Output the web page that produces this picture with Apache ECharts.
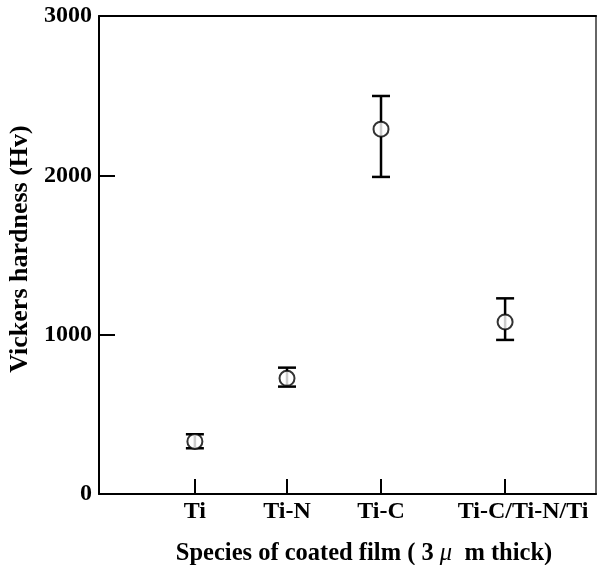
<!DOCTYPE html>
<html>
<head>
<meta charset="utf-8">
<script src="https://cdn.jsdelivr.net/npm/echarts@6/dist/echarts.min.js"></script>
<style>html,body{margin:0;padding:0;background:#fff;}#c{width:597px;height:565px;}</style>
</head>
<body>
<div id="c"></div>
<script>
const categories = ['Ti', 'Ti-N', 'Ti-C', 'Ti-C/Ti-N/Ti'];
const xPositions = [1.02, 2.0, 3.0, 4.32];
const hardness = [330, 726, 2290, 1080];
const errLow = [287, 674, 1990, 967];
const errHigh = [375, 793, 2498, 1228];
const yTicks = [0, 1000, 2000, 3000];

const font = '"Liberation Serif", "Times New Roman", serif';
const chart = echarts.init(document.getElementById('c'));

const pointData = xPositions.map((x, i) => [x, hardness[i]]);
const errData = xPositions.map((x, i) => [x, errLow[i], errHigh[i]]);

const nameBase = { fontFamily: font, fontWeight: 'bold', fontSize: 24.5, color: '#000' };

chart.setOption({
  animation: false,
  backgroundColor: '#fff',
  grid: { left: 99, top: 16, right: 1, bottom: 71, containLabel: false, outerBoundsMode: 'none' },
  xAxis: [{
    type: 'value', min: 0, max: 5.287, position: 'bottom',
    name: 'Species of coated film ( 3 {mu|μ}  m thick)',
    nameLocation: 'middle', nameGap: 47,
    nameTextStyle: Object.assign({}, nameBase, { padding: [0, 0, 0, 33],
      rich: { mu: Object.assign({}, nameBase, { fontStyle: 'italic', fontWeight: 'normal' }) } }),
    axisLine: { show: true, onZero: false, lineStyle: { color: '#000', width: 2 } },
    axisTick: { show: true, inside: true, length: 15, customValues: xPositions, lineStyle: { color: '#000', width: 2 } },
    axisLabel: { show: true, customValues: xPositions, margin: 6, fontFamily: font, fontWeight: 'bold', fontSize: 24, color: '#000',
      rich: { shift: { fontFamily: font, fontWeight: 'bold', fontSize: 24, color: '#000', padding: [0, 0, 0, 36] } },
      formatter: v => {
        const i = xPositions.indexOf(v);
        if (i < 0) return '';
        return i === categories.length - 1 ? '{shift|' + categories[i] + '}' : categories[i];
      } },
    splitLine: { show: false }
  }, {
    type: 'value', min: 0, max: 5.287, position: 'top',
    axisLine: { show: true, onZero: false, lineStyle: { color: '#000', width: 2 } },
    axisTick: { show: false }, axisLabel: { show: false }, splitLine: { show: false }
  }],
  yAxis: [{
    type: 'value', min: 0, max: 3000, interval: 1000, position: 'left',
    name: 'Vickers hardness (Hv)', nameLocation: 'middle', nameGap: 62,
    nameTextStyle: { fontFamily: font, fontWeight: 'bold', fontSize: 26, color: '#000', padding: [0, 0, 0, 12] },
    axisLine: { show: true, onZero: false, lineStyle: { color: '#000', width: 2 } },
    axisTick: { show: true, inside: true, length: 16, lineStyle: { color: '#000', width: 2 } },
    axisLabel: { margin: 7, fontFamily: font, fontWeight: 'bold', fontSize: 24, color: '#000',
      formatter: v => yTicks.indexOf(v) >= 0 ? String(v) : '' },
    splitLine: { show: false }
  }, {
    type: 'value', min: 0, max: 3000, position: 'right',
    axisLine: { show: true, onZero: false, lineStyle: { color: '#666', width: 2 } },
    axisTick: { show: false }, axisLabel: { show: false }, splitLine: { show: false }
  }],
  series: [{
    type: 'custom',
    xAxisIndex: 0, yAxisIndex: 0,
    data: errData,
    renderItem: function (params, api) {
      const x = api.value(0);
      const lo = api.coord([x, api.value(1)]);
      const hi = api.coord([x, api.value(2)]);
      const hw = 9;
      const st = { stroke: '#000', lineWidth: 2.5 };
      return { type: 'group', children: [
        { type: 'line', shape: { x1: lo[0], y1: lo[1], x2: hi[0], y2: hi[1] }, style: st },
        { type: 'line', shape: { x1: lo[0] - hw, y1: lo[1], x2: lo[0] + hw, y2: lo[1] }, style: st },
        { type: 'line', shape: { x1: hi[0] - hw, y1: hi[1], x2: hi[0] + hw, y2: hi[1] }, style: st }
      ] };
    },
    z: 2
  }, {
    type: 'scatter',
    xAxisIndex: 0, yAxisIndex: 0,
    data: pointData,
    symbol: 'circle', symbolSize: 15,
    itemStyle: { color: '#fff', borderColor: '#000', borderWidth: 2 },
    z: 3
  }]
});
</script>
</body>
</html>
